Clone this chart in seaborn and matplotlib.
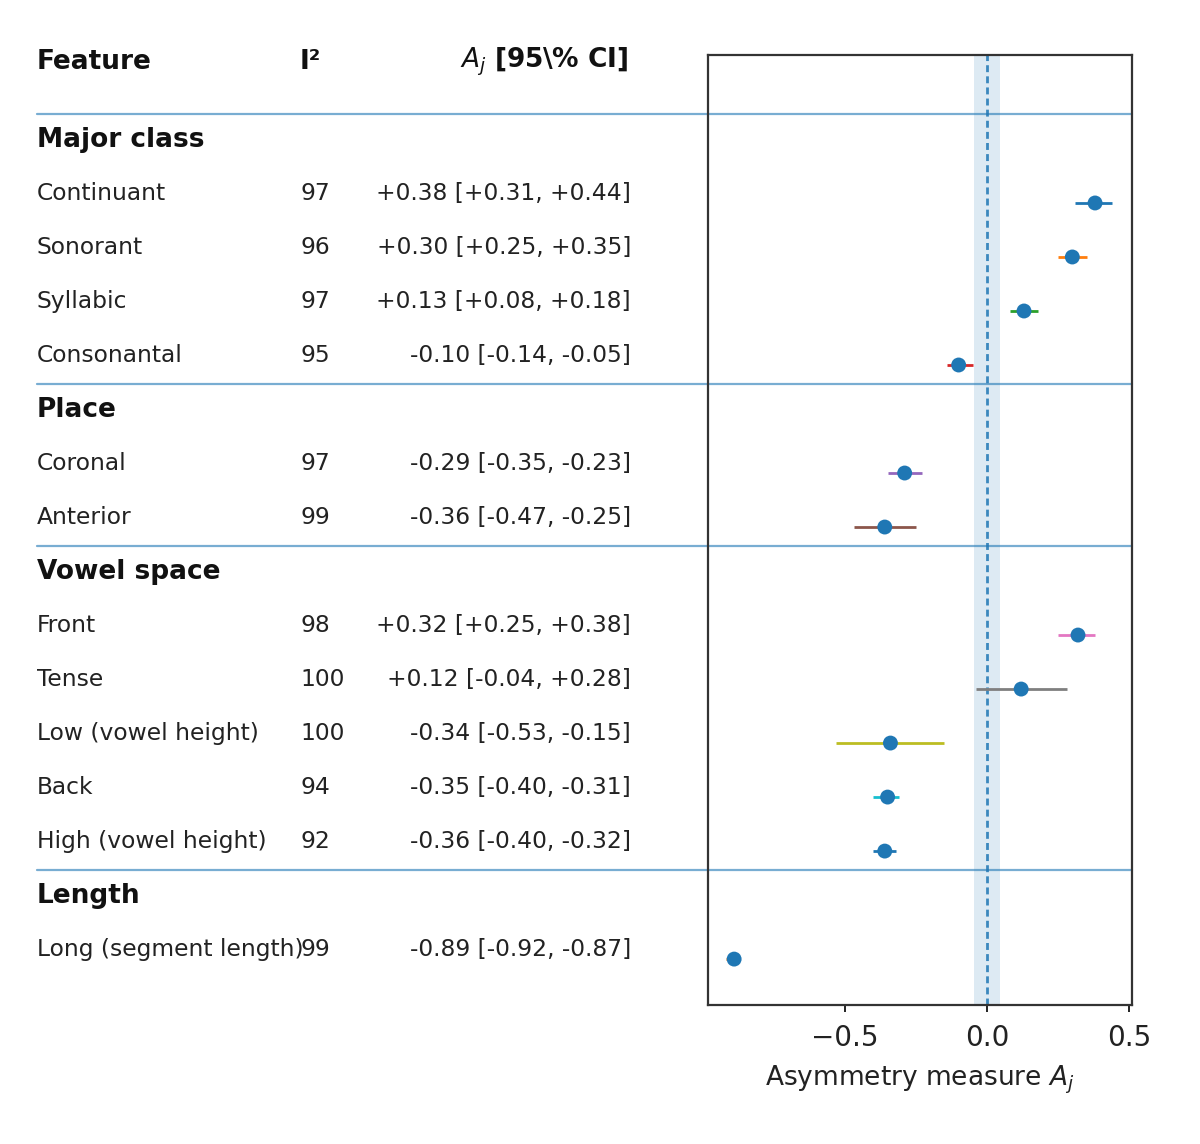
import numpy as np
import pandas as pd
import seaborn as sns
import matplotlib.pyplot as plt
import matplotlib.transforms as mtransforms

# values
groups = ["Major class", "Place", "Vowel space", "Length"]
group_sizes = [4, 2, 5, 1]
features = ["Continuant", "Sonorant", "Syllabic", "Consonantal",
            "Coronal", "Anterior",
            "Front", "Tense", "Low (vowel height)", "Back", "High (vowel height)",
            "Long (segment length)"]
i2 = [97, 96, 97, 95, 97, 99, 98, 100, 100, 94, 92, 99]
est = [0.38, 0.30, 0.13, -0.10, -0.29, -0.36, 0.32, 0.12, -0.34, -0.35, -0.36, -0.89]
ci_lo = [0.31, 0.25, 0.08, -0.14, -0.35, -0.47, 0.25, -0.04, -0.53, -0.40, -0.40, -0.92]
ci_hi = [0.44, 0.35, 0.18, -0.05, -0.23, -0.25, 0.38, 0.28, -0.15, -0.31, -0.32, -0.87]

sns.set_style("ticks")

fig = plt.figure(figsize=(12, 11.44), dpi=100)
ax = fig.add_axes([708/1200, 1-1005/1144, (1132-708)/1200, (1005-55)/1144])

# row layout: a header row for each group, then its features
ypos, group_y = [], []
r = -1
for g, n in zip(groups, group_sizes):
    group_y.append(r)
    ypos.extend(range(r+1, r+1+n))
    r += n + 1

df = pd.DataFrame({"feature": features, "i2": i2, "est": est,
                   "lo": ci_lo, "hi": ci_hi, "y": ypos})

pal = sns.color_palette("tab10")
ax.axvspan(-0.045, 0.045, color=pal[0], alpha=0.15, lw=0, zorder=0)
ax.axvline(0, color=pal[0], ls=(0, (2.5, 1.5)), lw=2, alpha=0.85, zorder=1)
for i, row in df.iterrows():
    ax.hlines(row["y"], row["lo"], row["hi"], color=pal[i % 10], lw=2, zorder=2)
sns.scatterplot(data=df, x="est", y="y", ax=ax, color=pal[0], s=115,
                edgecolor="none", zorder=3, legend=False)

ax.set_xlim(-0.982, 0.51)
ax.set_ylim(14.85, -2.74)
ax.set_yticks([])
ax.set_xticks([-0.5, 0.0, 0.5])
ax.tick_params(axis="x", labelsize=20, length=5, width=1.4, pad=9, colors="#222")
ax.set_xlabel("Asymmetry measure $A_j$", fontsize=19, color="#222", labelpad=8)
ax.set_ylabel("")
for s in ax.spines.values():
    s.set_visible(True)
    s.set_linewidth(1.6)
    s.set_color("#333")

# table on the left, x in figure fraction, y in data rows
trans = mtransforms.blended_transform_factory(fig.transFigure, ax.transData)
x_feat, x_i2, x_ci = 37/1200, 300/1200, 631/1200
off = -0.17
hdr = dict(transform=trans, fontsize=19, fontweight="bold", va="center", color="#111")
fig.text(x_feat, -2.61, "Feature", **hdr)
fig.text(x_i2, -2.61, "I²", **hdr)
fig.text(x_ci - 3/1200, -2.61, r"$A_j$ [95\% CI]", ha="right", **hdr)

body = dict(transform=trans, fontsize=16.8, va="center", color="#222")
for g, gy in zip(groups, group_y):
    fig.text(x_feat, gy + off, g, **hdr)
    ax.plot([x_feat, 1132/1200], [gy - 0.648, gy - 0.648], transform=trans,
            color=pal[0], lw=1.6, alpha=0.6, clip_on=False, zorder=1)
for _, row in df.iterrows():
    fig.text(x_feat, row["y"] + off, row["feature"], **body)
    fig.text(x_i2, row["y"] + off, str(row["i2"]), **body)
    fig.text(x_ci, row["y"] + off,
             f"{row['est']:+.2f} [{row['lo']:+.2f}, {row['hi']:+.2f}]", ha="right", **body)

fig.savefig("out.png", dpi=100)
